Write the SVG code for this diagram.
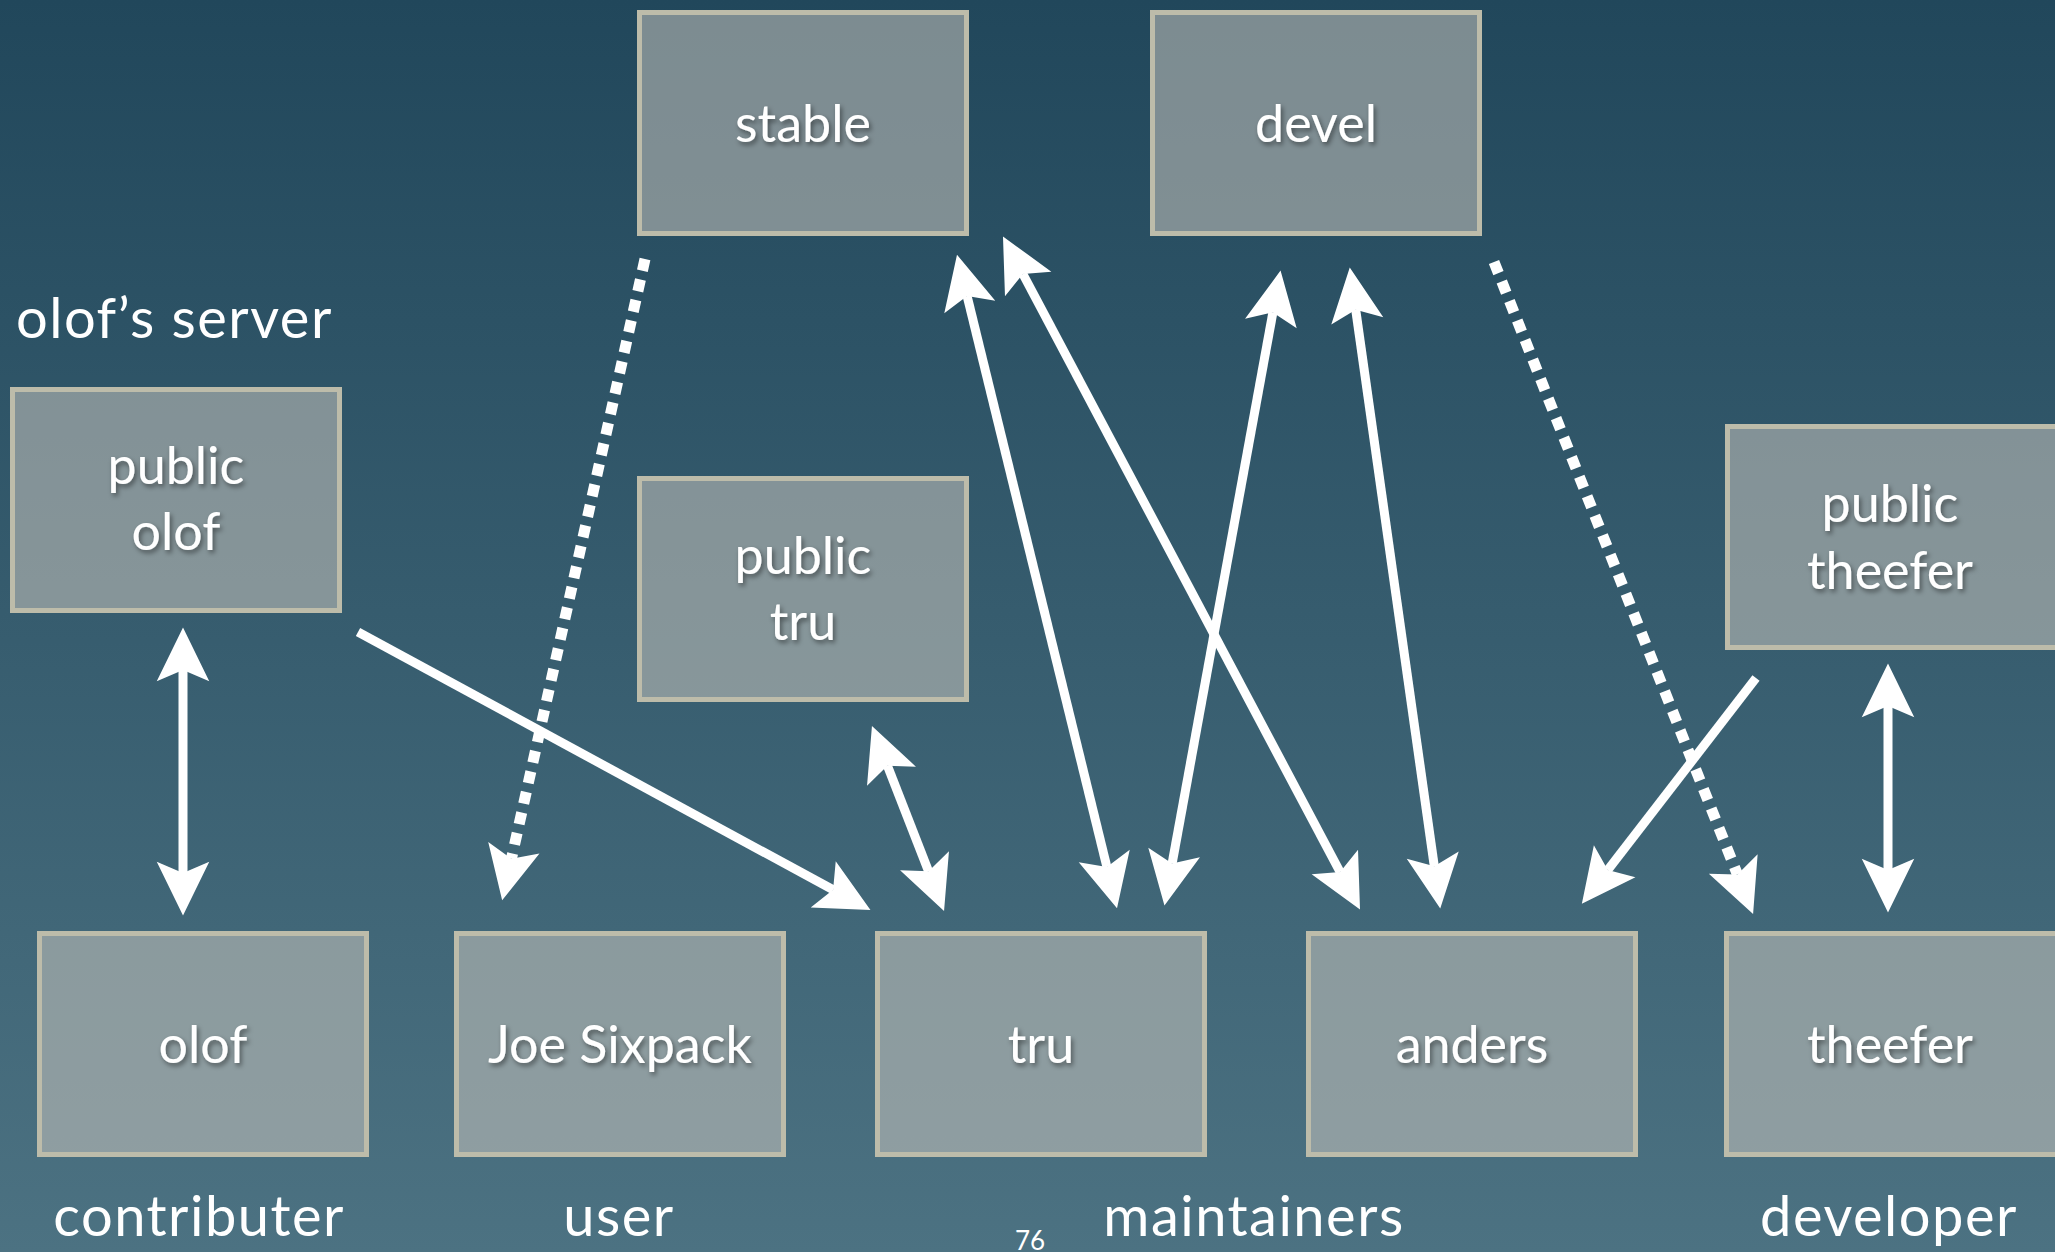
<svg xmlns="http://www.w3.org/2000/svg" width="2055" height="1252" viewBox="0 0 2055 1252">
  <defs>
    <linearGradient id="bg" x1="0" y1="0" x2="0" y2="1">
      <stop offset="0" stop-color="#21475b"/>
      <stop offset="1" stop-color="#4c7282"/>
    </linearGradient>
    <filter id="shadow" x="-20%" y="-30%" width="140%" height="160%">
      <feDropShadow dx="2" dy="3" stdDeviation="2.5" flood-color="#000" flood-opacity="0.45"/>
    </filter>
    <marker id="arrow" markerUnits="userSpaceOnUse" orient="auto-start-reverse" refX="0" refY="0" markerWidth="60" markerHeight="60" viewBox="-12 -24 48 48" overflow="visible">
      <path d="M34,0 L-9,-21 L0,0 L-9,21 Z" fill="#ffffff"/>
    </marker>
    <style>
      .box rect { fill: #c8c4be; fill-opacity: 0.55; stroke: #bdbcaa; stroke-width: 5; }
      .label { font-family: Lato, "Liberation Sans", sans-serif; font-size: 52px; fill: #ffffff; text-anchor: middle; filter: url(#shadow); }
      .outer { font-family: Lato, "Liberation Sans", sans-serif; font-size: 56px; letter-spacing: 1.5px; fill: #ffffff; text-anchor: middle; }
      .solid { fill: none; stroke: #ffffff; stroke-width: 9; }
      .dotted { fill: none; stroke: #ffffff; stroke-width: 11; stroke-dasharray: 12 9; }
      .two { marker-start: url(#arrow); marker-end: url(#arrow); }
      .one { marker-end: url(#arrow); }
    </style>
  </defs>

  <rect x="0" y="0" width="2055" height="1252" fill="url(#bg)"/>

  <g id="connectors">
    <path class="dotted one" d="M645,259 L511.4,858.8"/>
    <path class="solid two" d="M183,670 L183,873"/>
    <path class="solid one" d="M358,632 L833.1,889.8"/>
    <path class="solid two" d="M887.4,765.7 L928.6,871.3"/>
    <path class="solid two" d="M967.1,296 L1106.9,867"/>
    <path class="solid two" d="M1022.9,274 L1340.1,872"/>
    <path class="solid two" d="M1272.9,312.4 L1172.1,863.6"/>
    <path class="solid two" d="M1355.7,309.7 L1434.3,866.3"/>
    <path class="dotted one" d="M1494,262 L1737.4,874.4"/>
    <path class="solid one" d="M1756,678 L1607.8,870.1"/>
    <path class="solid two" d="M1888,706 L1888,870"/>
  </g>

  <g id="stable" class="box">
    <rect x="639.5" y="12.5" width="327" height="221"/>
    <text class="label" x="803" y="142">stable</text>
  </g>
  <g id="devel" class="box">
    <rect x="1152.5" y="12.5" width="327" height="221"/>
    <text class="label" x="1316" y="142">devel</text>
  </g>
  <g id="public-olof" class="box">
    <rect x="12.5" y="389.5" width="327" height="221"/>
    <text class="label" x="176" y="484">public</text>
    <text class="label" x="176" y="550">olof</text>
  </g>
  <g id="public-tru" class="box">
    <rect x="639.5" y="478.5" width="327" height="221"/>
    <text class="label" x="803" y="574">public</text>
    <text class="label" x="803" y="640">tru</text>
  </g>
  <g id="public-theefer" class="box">
    <rect x="1727.5" y="426.5" width="332" height="221"/>
    <text class="label" x="1890" y="522">public</text>
    <text class="label" x="1890" y="589">theefer</text>
  </g>
  <g id="olof" class="box">
    <rect x="39.5" y="933.5" width="327" height="221"/>
    <text class="label" x="203" y="1063">olof</text>
  </g>
  <g id="joe-sixpack" class="box">
    <rect x="456.5" y="933.5" width="327" height="221"/>
    <text class="label" x="620" y="1063">Joe Sixpack</text>
  </g>
  <g id="tru" class="box">
    <rect x="877.5" y="933.5" width="327" height="221"/>
    <text class="label" x="1041" y="1063">tru</text>
  </g>
  <g id="anders" class="box">
    <rect x="1308.5" y="933.5" width="327" height="221"/>
    <text class="label" x="1472" y="1063">anders</text>
  </g>
  <g id="theefer" class="box">
    <rect x="1726.5" y="933.5" width="332" height="221"/>
    <text class="label" x="1890" y="1063">theefer</text>
  </g>

  <g id="labels">
    <text class="outer" x="16" y="338" style="text-anchor:start">olof’s server</text>
    <text class="outer" x="199" y="1236">contributer</text>
    <text class="outer" x="619" y="1236">user</text>
    <text class="outer" x="1254" y="1236">maintainers</text>
    <text class="outer" x="1889" y="1236">developer</text>
    <text x="1030" y="1250" style="font-family: Lato, 'Liberation Sans', sans-serif; font-size: 26px; fill: #ffffff; text-anchor: middle;">76</text>
  </g>
</svg>
